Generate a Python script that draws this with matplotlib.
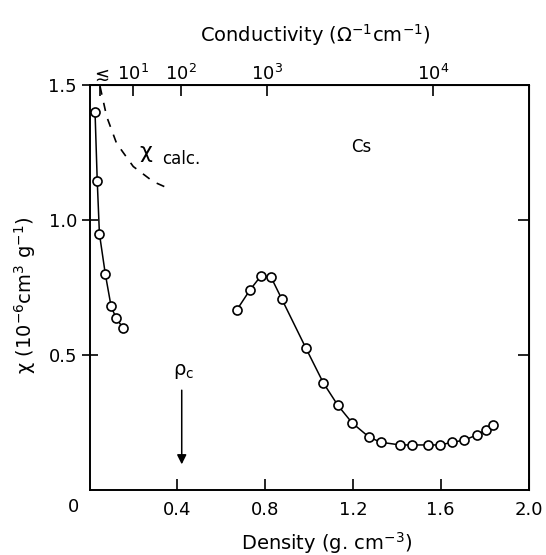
import numpy as np
import matplotlib.pyplot as plt

plt.rcParams['mathtext.default'] = 'regular'
plt.rcParams['font.family'] = ['DejaVu Sans']

# low density branch (density g/cm3, chi 1e-6 cm3/g)
low_density = [0.025, 0.035, 0.045, 0.072, 0.098, 0.121, 0.154]
low_chi = [1.40, 1.146, 0.949, 0.799, 0.681, 0.636, 0.599]

# high density branch
high_density = [0.671, 0.731, 0.781, 0.827, 0.876, 0.986, 1.065, 1.131, 1.196, 1.275,
                1.328, 1.415, 1.471, 1.541, 1.597, 1.653, 1.708, 1.764, 1.805, 1.840]
high_chi = [0.667, 0.741, 0.793, 0.788, 0.707, 0.525, 0.397, 0.314, 0.249, 0.195,
            0.177, 0.167, 0.167, 0.167, 0.167, 0.177, 0.185, 0.204, 0.222, 0.241]

# calculated curve (dashed)
calc_density = [0.048, 0.078, 0.123, 0.199, 0.290, 0.359]
calc_chi = [1.494, 1.383, 1.284, 1.198, 1.142, 1.117]

# conductivity scale on top axis
cond_pos = [0.048, 0.198, 0.417, 0.809, 1.565]
cond_labels = [r'$\lesssim$', '$10^1$', '$10^2$', '$10^3$', '$10^4$']

rho_c = 0.42

fig = plt.figure(figsize=(5.46, 5.55), dpi=100)
ax = fig.add_axes([0.164, 0.117, 0.804, 0.730])

ax.plot(calc_density, calc_chi, color='black', lw=1.2, ls=(0, (5, 5)))
for d, c in [(low_density, low_chi), (high_density, high_chi)]:
    ax.plot(d, c, color='black', lw=1.1, marker='o', ms=6.5, mfc='white',
            mec='black', mew=1.2)

ax.set_xlim(0, 2.0)
ax.set_ylim(0, 1.5)

ax.set_xticks([0.4, 0.8, 1.2, 1.6, 2.0])
ax.set_xticklabels(['0.4', '0.8', '1.2', '1.6', '2.0'])
ax.set_yticks([0.5, 1.0, 1.5])
ax.set_yticklabels(['0.5', '1.0', '1.5'])
ax.tick_params(axis='x', direction='in', length=8, width=1.2, labelsize=13, pad=8)
ax.tick_params(axis='y', direction='inout', length=12, width=1.2, labelsize=13, pad=3)
ax.text(-0.075, -0.028, '0', fontsize=13, ha='center', va='top',
        transform=ax.transData, clip_on=False)

for s in ax.spines.values():
    s.set_linewidth(1.4)

right = ax.secondary_yaxis('right')
right.set_yticks([0.5, 1.0])
right.tick_params(direction='in', length=8, width=1.2, labelright=False)

top = ax.secondary_xaxis('top')
top.set_xticks(cond_pos)
top.set_xticklabels(cond_labels)
top.tick_params(direction='in', length=8, width=1.2, labelsize=13, pad=1)
fig.text(0.577, 0.937, 'Conductivity ($\\Omega^{-1}$cm$^{-1}$)', fontsize=14,
         ha='center', va='center')

ax.set_xlabel('Density (g. cm$^{-3}$)', fontsize=14)
ax.xaxis.set_label_coords(0.54, -0.098)
ax.set_ylabel('χ ($10^{-6}$cm$^3$ g$^{-1}$)', fontsize=14)
ax.yaxis.set_label_coords(-0.118, 0.48)

ax.text(0.225, 1.25, 'χ', fontsize=16, va='center')
ax.text(0.33, 1.225, 'calc.', fontsize=12, va='center')
ax.text(1.24, 1.27, 'Cs', fontsize=12, ha='center', va='center')

ax.text(rho_c + 0.01, 0.44, r'$\rho_c$', fontsize=14, ha='center', va='center')
ax.annotate('', xy=(rho_c, 0.085), xytext=(rho_c, 0.38),
            arrowprops=dict(arrowstyle='-|>', color='black', lw=1.1,
                            mutation_scale=14))

fig.savefig('out.png', dpi=100)
